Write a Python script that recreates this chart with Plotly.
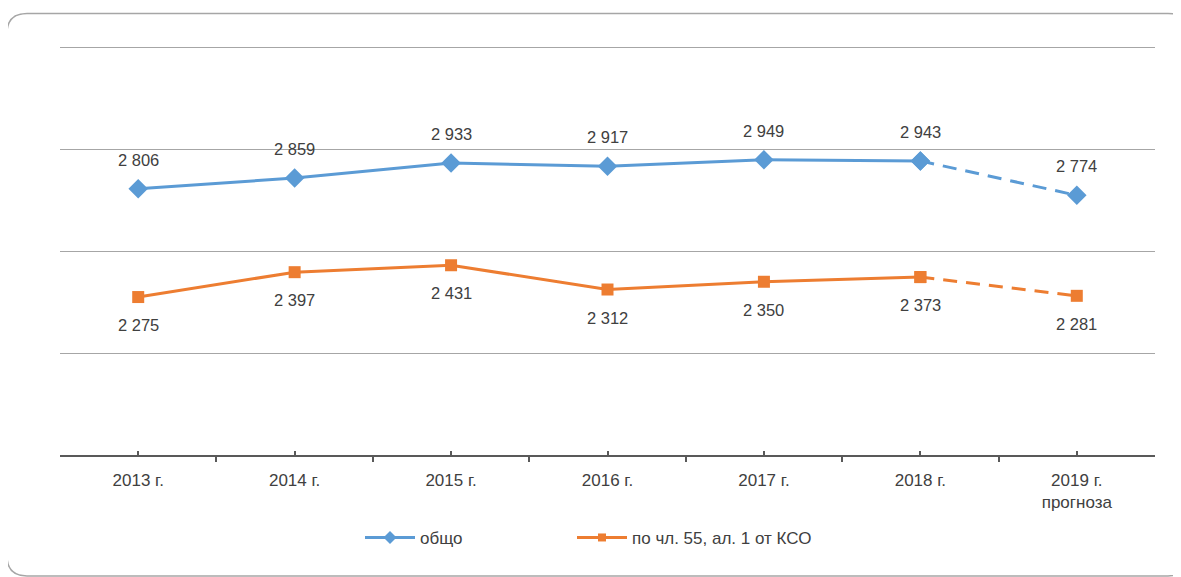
import plotly.graph_objects as go

years = ["2013 г.", "2014 г.", "2015 г.", "2016 г.", "2017 г.", "2018 г.", "2019 г.<br>прогноза"]
total = [2806, 2859, 2933, 2917, 2949, 2943, 2774]
art55 = [2275, 2397, 2431, 2312, 2350, 2373, 2281]

BLUE = "#5B9BD5"
ORANGE = "#ED7D31"
TXT = "#404040"
FONT = "Liberation Sans, Arial, sans-serif"
DASH = "14px,9px"

# the page body has an 8px margin, so the figure is shifted by that much
OFF = 8
W, H = 1181 - OFF, 577 - OFF
Y0, Y1 = 1500, 3600
PX_PER_UNIT = 102 / 500
AXIS_Y = 455            # page y of the x axis
plot_h = (Y1 - Y0) * PX_PER_UNIT
L, R = 60 - OFF, 26
B = H - (AXIS_Y - OFF)
T = H - B - plot_h


def fmt(v):
    s = "{:,}".format(v)
    return s.replace(",", " ")


def px2paper(px, py):
    # page pixel -> paper coordinates
    return (px - OFF - L) / (W - L - R), (H - B - (py - OFF)) / plot_h


xs = list(range(len(years)))
fig = go.Figure()

# solid part of each series (actual years), dashed for the forecast
for vals, col, sym, size in [(total, BLUE, "diamond", 15), (art55, ORANGE, "square", 12)]:
    fig.add_trace(go.Scatter(
        x=xs[:6], y=vals[:6], mode="lines+markers", showlegend=False,
        line=dict(color=col, width=3),
        marker=dict(symbol=sym, size=size, color=col)))
    fig.add_trace(go.Scatter(
        x=xs[5:], y=vals[5:], mode="lines+markers", showlegend=False,
        line=dict(color=col, width=3, dash=DASH),
        marker=dict(symbol=sym, size=size, color=col)))

# legend entries (smaller markers than on the chart)
fig.add_trace(go.Scatter(
    x=[None], y=[None], mode="lines+markers", name="общо", legend="legend",
    line=dict(color=BLUE, width=3), marker=dict(symbol="diamond", size=10, color=BLUE)))
fig.add_trace(go.Scatter(
    x=[None], y=[None], mode="lines+markers", name="по чл. 55, ал. 1 от КСО",
    legend="legend2",
    line=dict(color=ORANGE, width=3), marker=dict(symbol="square", size=8, color=ORANGE)))

anns = []
for x, v in zip(xs, total):
    anns.append(dict(x=x, y=v, text=fmt(v), showarrow=False, yshift=29,
                     font=dict(size=16.5, color=TXT, family=FONT)))
for x, v in zip(xs, art55):
    anns.append(dict(x=x, y=v, text=fmt(v), showarrow=False, yshift=-28,
                     font=dict(size=16.5, color=TXT, family=FONT)))

# rounded frame around the chart
x0, y0 = px2paper(7, 576)
x1, y1 = px2paper(1188, 13)
rx = 20 / (W - L - R)
ry = 20 / plot_h
path = (f"M {x0+rx},{y1} L {x1-rx},{y1} Q {x1},{y1} {x1},{y1-ry} "
        f"L {x1},{y0+ry} Q {x1},{y0} {x1-rx},{y0} "
        f"L {x0+rx},{y0} Q {x0},{y0} {x0},{y0+ry} "
        f"L {x0},{y1-ry} Q {x0},{y1} {x0+rx},{y1} Z")

l1x, ly = px2paper(360, 538)
l2x, _ = px2paper(572, 538)
leg = dict(orientation="h", xanchor="left", y=ly, yanchor="middle",
           font=dict(size=17, color=TXT), itemwidth=50, bgcolor="rgba(0,0,0,0)")

fig.update_layout(
    width=W, height=H,
    margin=dict(l=L, r=R, t=T, b=B),
    paper_bgcolor="white", plot_bgcolor="white",
    font=dict(family=FONT, size=17, color=TXT),
    annotations=anns,
    shapes=[dict(type="path", path=path, xref="paper", yref="paper",
                 line=dict(color="#a6a6a6", width=1.5), layer="below")],
    legend=dict(leg, x=l1x),
    legend2=dict(leg, x=l2x),
)
fig.update_xaxes(
    range=[-0.5, 6.5], tickvals=xs, ticktext=years,
    showline=True, linecolor="#595959", linewidth=1.5,
    ticks="inside", ticklen=4, tickcolor="#595959", tickwidth=1.5,
    ticklabelstandoff=9,
    minor=dict(tickmode="linear", tick0=-0.5, dtick=1, ticks="outside",
               ticklen=5, tickcolor="#595959", tickwidth=1.5, showgrid=False),
    showgrid=False, zeroline=False, tickfont=dict(size=17, color=TXT))
fig.update_yaxes(
    range=[Y0, Y1], tickvals=[2000, 2500, 3000, 3500],
    showgrid=True, gridcolor="#a6a6a6", gridwidth=1,
    showticklabels=False, zeroline=False, showline=False)

fig.write_html("out.html")
